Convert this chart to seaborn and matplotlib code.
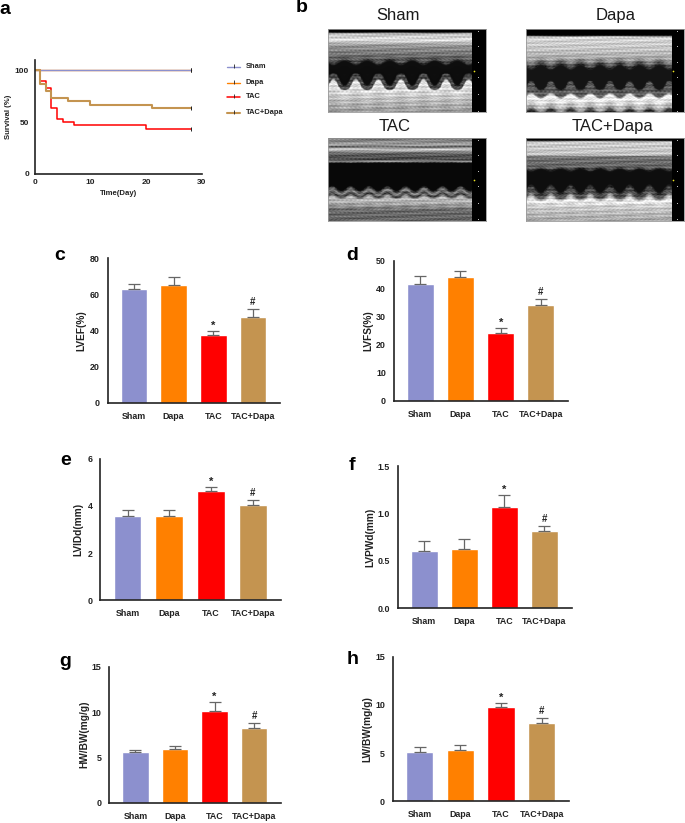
"""
Survival, M-mode echo panels and bar charts for the four groups
"""
import matplotlib
matplotlib.use('Agg')
import matplotlib.pyplot as plt
import seaborn as sns
import numpy as np

sns.set_style("white")
plt.rcParams['font.family'] = ['Liberation Sans', 'DejaVu Sans']

W, H = 685, 823

groups = ['Sham', 'Dapa', 'TAC', 'TAC+Dapa']
colors = ['#8C90CE', '#FF8000', '#FF0000', '#C49450']

# survival curves (day, %)
sham_days = [0, 28]
sham_surv = [100, 100]
dapa_days = [0, 28]
dapa_surv = [100, 100]
tac_days = [0, 1, 2, 3, 4, 5, 7, 20, 28]
tac_surv = [100, 90, 83.3, 63.3, 53.3, 50, 46.7, 43.3, 43.3]
combo_days = [0, 1, 2, 3, 6, 10, 21, 28]
combo_surv = [100, 86.7, 80, 73.3, 70, 66.7, 63.3, 63.3]

# bar values and upper error
lvef = [63, 65.3, 37.5, 47.5]
lvef_err = [2.8, 4.5, 2.1, 4.3]
lvfs = [41.5, 44, 24, 34.2]
lvfs_err = [3.0, 2.2, 2.0, 2.1]
lvidd = [3.57, 3.57, 4.62, 4.03]
lvidd_err = [0.26, 0.26, 0.18, 0.2]
lvpwd = [0.6, 0.62, 1.07, 0.81]
lvpwd_err = [0.11, 0.115, 0.125, 0.06]
hwbw = [5.55, 5.95, 10.1, 8.25]
hwbw_err = [0.3, 0.25, 1.0, 0.5]
lwbw = [5.1, 5.3, 9.75, 8.15]
lwbw_err = [0.55, 0.5, 0.45, 0.45]

# echo panels: grey level by depth
sham_depth = [0, 0.03, 0.05, 0.13, 0.19, 0.29, 0.37, 0.41, 0.58, 0.62, 0.68, 0.71, 0.79, 1]
sham_grey = [0, 0, 190, 225, 150, 120, 80, 15, 12, 80, 65, 235, 205, 150]
dapa_depth = [0, 0.07, 0.09, 0.25, 0.35, 0.4, 0.47, 0.68, 0.72, 0.79, 0.82, 0.88, 0.96, 1]
dapa_grey = [0, 0, 215, 195, 165, 110, 20, 20, 85, 95, 245, 225, 160, 50]
tac_depth = [0, 0.04, 0.08, 0.1, 0.13, 0.18, 0.26, 0.28, 0.3, 0.6, 0.65, 0.69, 0.73, 0.79, 0.87, 1]
tac_grey = [110, 140, 165, 90, 210, 95, 70, 160, 8, 8, 140, 55, 190, 170, 105, 100]
combo_depth = [0, 0.02, 0.04, 0.2, 0.22, 0.35, 0.39, 0.6, 0.65, 0.7, 0.76, 0.82, 1]
combo_grey = [0, 0, 205, 195, 115, 100, 15, 14, 75, 80, 245, 205, 165]
# beats in the panel, wall movement, cavity centre
echo_beats = [7, 8, 8.6, 8]
echo_amp = [0.09, 0.08, 0.03, 0.05]
echo_centre = [0.5, 0.58, 0.45, 0.5]

BLACK = '#222222'


def ax_px(left, top, right, bottom):
    """Axes from pixel edges of the figure."""
    return fig.add_axes([left / W, 1 - bottom / H, (right - left) / W, (bottom - top) / H])


def letter(x, y, txt):
    fig.text(x / W, 1 - y / H, txt, fontsize=14, fontweight='bold', ha='center', va='center', color='black')


def style_axis(ax, size):
    sns.despine(ax=ax)
    for s in ['left', 'bottom']:
        ax.spines[s].set_linewidth(1.2)
        ax.spines[s].set_color(BLACK)
    ax.tick_params(axis='both', length=4, width=1.1, color=BLACK, labelsize=size, labelcolor=BLACK, pad=1.5)
    for t in ax.get_xticklabels() + ax.get_yticklabels():
        t.set_fontweight('bold')


def bar_panel(box, values, errs, ylabel, ymax, yticks, fmt, label_x):
    ax = ax_px(*box)
    sns.barplot(x=groups, y=values, hue=groups, palette=colors, width=0.67, saturation=1,
                legend=False, ax=ax)
    ax.errorbar(groups, values, yerr=[np.zeros(4), errs], fmt='none', ecolor='#666666',
                elinewidth=0.9, capsize=4.5, capthick=0.9, zorder=1)
    ax.set_xlim(-0.66, 3.68)
    ax.set_ylim(0, ymax)
    ax.set_yticks(yticks)
    ax.set_yticklabels([fmt.format(v) for v in yticks])
    ax.set_ylabel(ylabel, fontsize=7.3, fontweight='bold', color=BLACK)
    ax.yaxis.set_label_coords(label_x, 0.5)
    style_axis(ax, 6.4)
    ax.tick_params(axis='x', pad=2.5)
    ax.annotate('*', (2, values[2] + errs[2]), xytext=(0, 0), textcoords='offset points',
                ha='center', va='bottom', fontsize=8, fontweight='bold', color=BLACK)
    ax.annotate('#', (3, values[3] + errs[3]), xytext=(0, 1.5), textcoords='offset points',
                ha='center', va='bottom', fontsize=7, fontweight='bold', color=BLACK)
    return ax


def echo_panel(box, title, title_xy, depths, grey, beats, amp, centre, strip):
    ax = ax_px(*box)
    rows, cols = 250, 420
    depth = np.linspace(0, 1, rows)
    across = np.linspace(0, 1, cols)
    xx, yy = np.meshgrid(across, depth)
    # septum and back wall move towards each other, back wall less below the band
    upper = -0.35 * np.clip((yy - 0.28) / 0.12, 0, 1) * np.clip((centre - yy) / 0.05, 0, 1)
    lower = np.clip((yy - centre) / 0.05, 0, 1) * (1 - 0.65 * np.clip((yy - 0.68) / 0.06, 0, 1))
    shift = amp * np.sin(2 * np.pi * beats * xx) * (upper + lower)
    img = np.interp(yy + shift, depths, grey)
    # tissue layers and grain, only on the bright parts
    band = 16 * np.sin(2 * np.pi * 17 * yy + 9 * xx) + 12 * np.sin(2 * np.pi * 29 * yy - 14 * xx)
    grain = 20 * np.sin(2 * np.pi * 37 * xx + 5 * np.sin(2 * np.pi * 13 * yy)) * np.sin(2 * np.pi * 23 * yy)
    img = np.clip(img + (band + grain) * (img > 40), 0, 255)
    # soften, the original is a low resolution scan
    kernel = np.ones(3) / 3
    img = np.apply_along_axis(lambda c: np.convolve(c, kernel, mode='same'), 0, img)
    img = np.apply_along_axis(lambda r: np.convolve(r, kernel, mode='same'), 1, img)
    img[:, across > 1 - strip] = 0
    sns.heatmap(img, cmap='gray', vmin=0, vmax=255, cbar=False, xticklabels=False,
                yticklabels=False, rasterized=True, ax=ax)
    for s in ax.spines.values():
        s.set_visible(True)
        s.set_color('#999999')
        s.set_linewidth(0.6)
    # depth scale on the black strip
    marks = [0.02, 0.2, 0.39, 0.58, 0.78, 0.98]
    ax.scatter([cols * (1 - strip * 0.6)] * 6, [rows * m for m in marks], s=0.5, color='#CCCCCC', linewidths=0)
    ax.scatter([cols * (1 - strip * 0.88)], [rows * 0.5], s=1.5, color='#E8E020', linewidths=0)
    fig.text(title_xy[0] / W, 1 - title_xy[1] / H, title, fontsize=12, ha='center', va='center', color='#1A1A1A')


fig = plt.figure(figsize=(W / 100, H / 100), dpi=100)

# a: survival
ax = ax_px(34.7, 60, 201.7, 173.7)
curves = [('Sham', sham_days, sham_surv, colors[0], 1.0),
          ('Dapa', dapa_days, dapa_surv, colors[1], 1.0),
          ('TAC', tac_days, tac_surv, colors[2], 1.1),
          ('TAC+Dapa', combo_days, combo_surv, colors[3], 1.5)]
# Sham goes on top of Dapa, both stay at 100
for name, days, surv, col, lw in [curves[1], curves[0], curves[2], curves[3]]:
    sns.lineplot(x=days, y=surv, drawstyle='steps-post', color=col, linewidth=lw,
                 estimator=None, sort=False, ax=ax)
    ax.scatter(days[-1], surv[-1], marker='|', s=7, color=BLACK, linewidths=0.7, zorder=4)
ax.set_xlim(0, 30)
ax.set_ylim(0, 110)
ax.set_xticks([0, 10, 20, 30])
ax.set_yticks([0, 50, 100])
ax.set_xlabel('Time(Day)', fontsize=5.6, fontweight='bold', color=BLACK, labelpad=3)
ax.set_ylabel('Survival (%)', fontsize=5.6, fontweight='bold', color=BLACK, labelpad=2)
style_axis(ax, 6)
ax.tick_params(length=3, width=1.0, pad=1)

# legend by hand, same spacing as the original
for (name, days, surv, col, lw), ypx in zip(curves, [67, 82.5, 97, 112.5]):
    fig.add_artist(plt.Line2D([227 / W, 240 / W], [1 - ypx / H] * 2, color=col, linewidth=lw))
    fig.add_artist(plt.Line2D([233.5 / W], [1 - (ypx - 1) / H], marker='|', markersize=2.5,
                              color=BLACK, markeredgewidth=0.6, linestyle='none'))
    fig.text(246 / W, 1 - ypx / H, name, fontsize=5.4, fontweight='bold', va='center', color=BLACK)

# b: echo images
echo_panel((327.5, 29.3, 485.7, 112.3), 'Sham', (398, 15), sham_depth, sham_grey,
           echo_beats[0], echo_amp[0], echo_centre[0], 0.085)
echo_panel((526, 29.3, 684, 112.3), 'Dapa', (616, 15.5), dapa_depth, dapa_grey,
           echo_beats[1], echo_amp[1], echo_centre[1], 0.078)
echo_panel((327.5, 138.3, 485.7, 221), 'TAC', (395, 126.5), tac_depth, tac_grey,
           echo_beats[2], echo_amp[2], echo_centre[2], 0.085)
echo_panel((526, 138.3, 684, 221), 'TAC+Dapa', (613, 126.5), combo_depth, combo_grey,
           echo_beats[3], echo_amp[3], echo_centre[3], 0.078)

# c-h: bars
bar_panel((107.7, 258.3, 280, 402.7), lvef, lvef_err, 'LVEF(%)', 80, [0, 20, 40, 60, 80], '{:d}', -0.125)
bar_panel((393.7, 260.7, 568.3, 400.7), lvfs, lvfs_err, 'LVFS(%)', 50, [0, 10, 20, 30, 40, 50], '{:d}', -0.119)
bar_panel((100, 458.7, 281, 600.3), lvidd, lvidd_err, 'LVIDd(mm)', 6, [0, 2, 4, 6], '{:d}', -0.091)
bar_panel((397.7, 466, 571.7, 608.3), lvpwd, lvpwd_err, 'LVPWd(mm)', 1.5, [0, 0.5, 1.0, 1.5], '{:.1f}', -0.13)
bar_panel((109.3, 666.7, 281, 802.7), hwbw, hwbw_err, 'HW/BW(mg/g)', 15, [0, 5, 10, 15], '{:d}', -0.115)
bar_panel((392.7, 656.7, 569.3, 801.3), lwbw, lwbw_err, 'LW/BW(mg/g)', 15, [0, 5, 10, 15], '{:d}', -0.114)

letter(5, 9, 'a')
letter(302, 7, 'b')
letter(60, 256, 'c')
letter(352, 255, 'd')
letter(66, 461, 'e')
letter(352, 465, 'f')
letter(65, 661, 'g')
letter(353, 659, 'h')

fig.savefig('out.png', dpi=100)
